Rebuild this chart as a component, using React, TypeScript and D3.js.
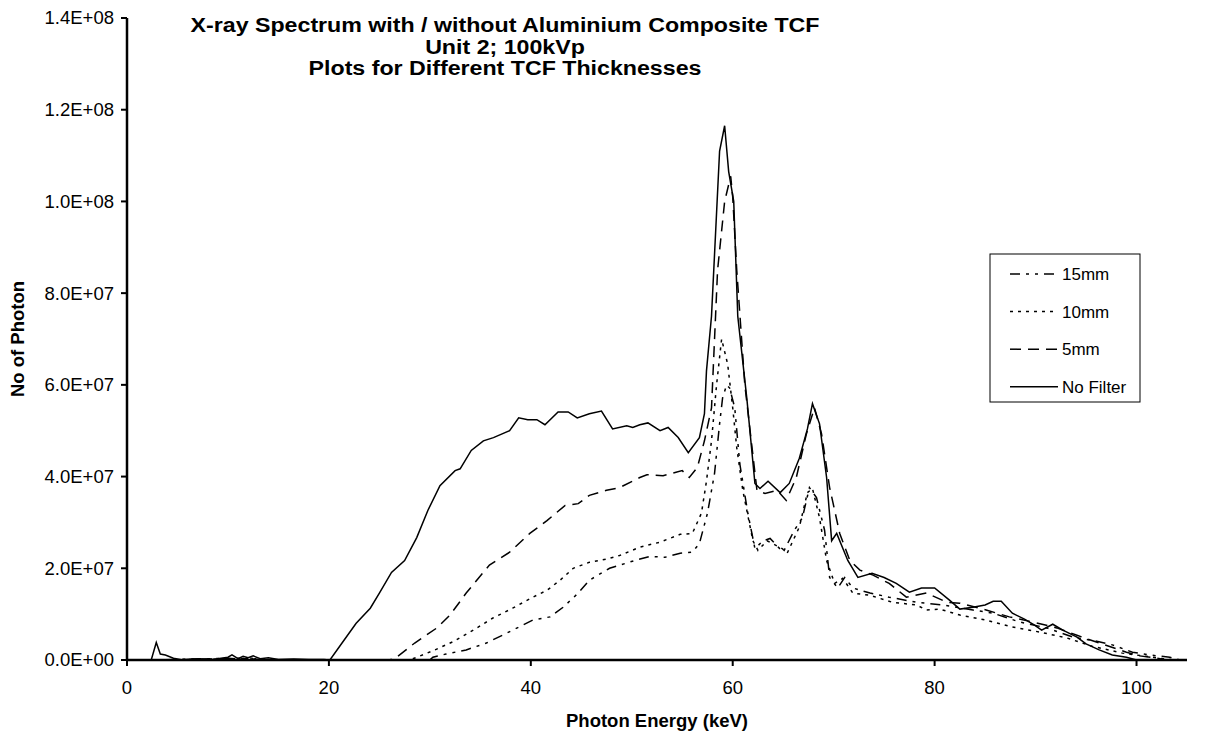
import React from "react";
import * as d3 from "d3";

// Photon energy (keV) / photon count (in units of 1E6) pairs
const noFilter: [number, number][] = [
  [0, 0], [2.4, 0], [2.9, 3.8], [3.3, 1.3], [3.8, 1.1], [4.6, 0.4], [5.5, 0], [7, 0.2], [8.5, 0.1],
  [10, 0.6], [10.4, 1.1], [11, 0.3], [11.5, 0.8], [12, 0.5], [12.5, 0.9], [13.2, 0.3], [14, 0.5],
  [15, 0.1], [16.5, 0.2], [18, 0.1], [19.5, 0.1], [20.1, 0], [21.3, 3.7], [22.7, 8], [24.1, 11.3],
  [25, 14.6], [26.2, 19.1], [27.5, 21.7], [28.7, 26.7], [29.8, 32.6], [31, 38], [32.5, 41.3],
  [33, 41.7], [34.1, 45.7], [35.3, 47.8], [36.3, 48.5], [37.9, 50], [38.8, 52.8], [39.7, 52.4],
  [40.6, 52.4], [41.4, 51.3], [42.7, 54.1], [43.7, 54.1], [44.6, 52.8], [45.8, 53.7], [47, 54.3],
  [48.1, 50.4], [49.5, 51.1], [50.1, 50.7], [50.8, 51.3], [51.6, 51.7], [52.8, 50], [53.6, 50.7],
  [54.6, 48.5], [55.6, 45.2], [56.7, 48.5], [57.2, 53.7], [57.4, 63], [57.9, 75], [58.7, 111],
  [59.2, 116.5], [59.6, 106.5], [60.1, 100], [60.5, 75], [61.4, 57], [62.2, 38.5], [62.7, 37.4],
  [63.5, 39], [64.7, 36.5], [65.6, 38.5], [66.6, 44], [67.4, 50.4], [67.9, 55.9], [68.6, 51.5],
  [69.3, 39.8], [69.8, 26], [70.3, 27.6], [71.4, 21.7], [72.4, 18], [73.8, 18.9], [75, 18],
  [76.2, 16.7], [77.5, 14.8], [78.7, 15.7], [80, 15.7], [81.5, 13], [82.5, 11.1], [83.8, 11.5],
  [85, 12], [85.8, 12.8], [86.6, 12.8], [87.7, 10.2], [88.9, 8.9], [89.9, 7.6], [90.6, 6.5],
  [91.7, 7.8], [92.7, 6.5], [94.1, 5], [95, 3.5], [96.3, 2.2], [97.6, 1.1], [99, 0.6], [100, 0],
];

const mm5: [number, number][] = [
  [2, 0], [10, 0.3], [11, 0.1], [12, 0.4], [13, 0.1], [15, 0], [26, 0], [26.7, 0.6], [28.5, 3.7],
  [30.7, 7], [32, 9.8], [33.6, 14.6], [35.9, 20.7], [37.9, 23.5], [39.9, 27.6], [41.6, 30.4],
  [43.4, 33.7], [44.7, 34.1], [45.8, 35.9], [47.5, 37], [48.8, 37.6], [50.8, 39.8], [51.5, 40.4],
  [53.1, 40.2], [55, 41.3], [55.7, 39.8], [56.5, 42], [57.2, 47.8], [57.9, 55], [58.5, 85],
  [59.2, 100], [59.8, 105.5], [60, 101], [60.4, 85], [61.2, 60], [62.4, 37], [63.2, 36.3],
  [64.4, 37], [65.3, 34.8], [66.3, 39.8], [67.3, 49.3], [68.1, 55], [68.8, 49.3], [69.6, 37.6],
  [70.6, 27.6], [71.6, 21.7], [72.6, 19.6], [73.9, 18.5], [75.5, 16.7], [77.2, 13.7], [79.2, 14.6],
  [81.2, 12.6], [82.5, 12.4], [85.1, 10.9], [87.4, 9.4], [89.7, 8.3], [92.1, 7], [94.1, 5.4],
  [96.3, 3.7], [99, 1.7], [100.3, 0.9], [102, 0.4], [103, 0],
];

const mm10: [number, number][] = [
  [3, 0], [10, 0.2], [11, 0.4], [12, 0.1], [13, 0.3], [14, 0], [28, 0], [28.7, 0.6], [30.5, 2.2],
  [32.3, 4], [34.3, 6.5], [36.2, 9.1], [38.2, 11.3], [40.2, 13.7], [41.6, 15.2], [42.9, 17.4],
  [44.2, 20], [45.8, 21.3], [47.5, 22], [48.8, 22.8], [50.8, 24.6], [52.8, 25.7], [54.8, 27.4],
  [56, 27.6], [56.9, 32], [57.4, 39], [57.9, 47.8], [58.4, 60], [58.9, 70], [59.5, 64.5],
  [60, 55], [60.4, 46.3], [61, 37], [62, 26], [62.5, 23.9], [63.4, 26], [64.9, 24.3], [65.4, 23.3],
  [66.6, 29], [67.4, 36.5], [67.9, 37.4], [68.6, 31], [69.3, 21.7], [70.1, 16.7], [70.9, 17.8],
  [71.9, 14.6], [73.6, 14.1], [75.8, 12.6], [78.2, 12], [79.2, 10.9], [80.5, 11.1], [82.5, 9.8],
  [85.1, 8.7], [87.7, 7.2], [90.4, 6.1], [93.1, 4.8], [95.6, 3], [98.6, 1.5], [101.6, 0.6],
  [103.6, 0],
];

const mm15: [number, number][] = [
  [3, 0], [10, 0.4], [11, 0.2], [12, 0.5], [13, 0.2], [14, 0], [30, 0], [30.3, 0.6], [31.6, 1.3],
  [33.6, 2.2], [35.6, 3.7], [38.2, 6.5], [40.2, 8.7], [41.9, 9.4], [43.2, 11.5], [44.7, 14.6],
  [45.8, 17.4], [47.8, 20], [50.3, 21.7], [51.8, 22.6], [53.3, 22.4], [54.8, 23.3], [56, 23.5],
  [56.7, 25.4], [57.5, 32], [58.2, 40.7], [58.7, 51.5], [59, 57.2], [59.4, 60], [59.7, 59.3],
  [60.2, 55], [60.7, 42.8], [61.5, 32], [62.2, 24.3], [63, 26], [63.7, 26.5], [65, 23.5],
  [66.1, 28.3], [66.9, 31], [67.6, 37.6], [68.3, 35.4], [69.1, 28.3], [69.6, 18], [70.4, 15.7],
  [71.1, 18], [71.9, 15.7], [73.6, 14.6], [75.5, 13.7], [78.2, 12.6], [80.8, 12], [83.8, 10.9],
  [85.8, 10.2], [88.4, 8.3], [91.1, 7], [93.7, 5], [95.6, 4.3], [97.6, 3.3], [99.6, 1.7],
  [101.3, 1.1], [103.3, 0.6], [104.3, 0],
];

const xTicks = [0, 20, 40, 60, 80, 100];
const yTicks = [0, 20, 40, 60, 80, 100, 120, 140]; // in units of 1E6
const titleLines = [
  "X-ray Spectrum with / without Aluminium Composite TCF",
  "Unit 2; 100kVp",
  "Plots for Different TCF Thicknesses",
];
const legendLabels = ["15mm", "10mm", "5mm", "No Filter"];
const xTitle = "Photon Energy (keV)";
const yTitle = "No of Photon";

const W = 1208;
const H = 738;
const plot = { left: 127, right: 1187, top: 18, bottom: 660 };

function fmtSci(vMillions: number): string {
  const v = vMillions * 1e6;
  if (v === 0) return "0.0E+00";
  const exp = Math.floor(Math.log10(v));
  const m = v / Math.pow(10, exp);
  return `${m.toFixed(1)}E+${String(exp).padStart(2, "0")}`;
}

export default function App() {
  const x = d3.scaleLinear().domain([0, 105]).range([plot.left, plot.right]);
  const y = d3.scaleLinear().domain([0, 140]).range([plot.bottom, plot.top]);
  const line = d3
    .line<[number, number]>()
    .x((d) => x(d[0]))
    .y((d) => y(d[1]));

  const series = [
    { label: legendLabels[0], data: mm15, dash: "10,6,3,6,3,6" },
    { label: legendLabels[1], data: mm10, dash: "3,5" },
    { label: legendLabels[2], data: mm5, dash: "11,7" },
    { label: legendLabels[3], data: noFilter, dash: "none" },
  ];

  const font = "Arial, 'Liberation Sans', sans-serif";
  const legend = { x: 990, y: 254, w: 150, h: 148 };

  return (
    <svg width={W} height={H} style={{ display: "block", position: "absolute", left: 0, top: 0, background: "#fff" }} fontFamily={font}>
      <rect x={0} y={0} width={W} height={H} fill="#fff" />
      {/* title */}
      {titleLines.map((t, i) => (
        <text
          key={t}
          transform={`translate(505, ${32 + i * 21.5}) scale(1.16, 1)`}
          textAnchor="middle"
          fontSize={20}
          fontWeight="bold"
          fill="#000"
        >
          {t}
        </text>
      ))}
      {/* series */}
      {series.map((s) => (
        <path key={s.label} d={line(s.data) || ""} fill="none" stroke="#000" strokeWidth={1.5} strokeDasharray={s.dash} />
      ))}
      {/* axes */}
      <line x1={plot.left} x2={plot.left} y1={plot.top} y2={plot.bottom} stroke="#000" strokeWidth={2.5} />
      <line x1={plot.left} x2={plot.right} y1={plot.bottom} y2={plot.bottom} stroke="#000" strokeWidth={2.5} />
      {yTicks.map((t) => (
        <g key={t}>
          <line x1={plot.left - 6} x2={plot.left} y1={y(t)} y2={y(t)} stroke="#000" strokeWidth={2} />
          <text x={plot.left - 13} y={y(t)} dy="0.35em" textAnchor="end" fontSize={18.5} fill="#000">
            {fmtSci(t)}
          </text>
        </g>
      ))}
      {xTicks.map((t) => (
        <g key={t}>
          <line x1={x(t)} x2={x(t)} y1={plot.bottom} y2={plot.bottom + 6} stroke="#000" strokeWidth={2} />
          <text x={x(t)} y={694} textAnchor="middle" fontSize={18.5} fill="#000">
            {t}
          </text>
        </g>
      ))}
      <text x={(plot.left + plot.right) / 2} y={727} textAnchor="middle" fontSize={18.5} fontWeight="bold" fill="#000">
        {xTitle}
      </text>
      <text transform={`translate(24, ${(plot.top + plot.bottom) / 2}) rotate(-90)`} textAnchor="middle" fontSize={18.5} fontWeight="bold" fill="#000">
        {yTitle}
      </text>
      {/* legend */}
      <rect x={legend.x} y={legend.y} width={legend.w} height={legend.h} fill="#fff" stroke="#000" strokeWidth={1} />
      {series.map((s, i) => {
        const cy = 274 + i * 37.6;
        return (
          <g key={s.label}>
            <line x1={1010} x2={1058} y1={cy} y2={cy} stroke="#000" strokeWidth={1.5} strokeDasharray={s.dash} />
            <text x={1062} y={cy} dy="0.35em" fontSize={17} fill="#000">
              {s.label}
            </text>
          </g>
        );
      })}
    </svg>
  );
}
